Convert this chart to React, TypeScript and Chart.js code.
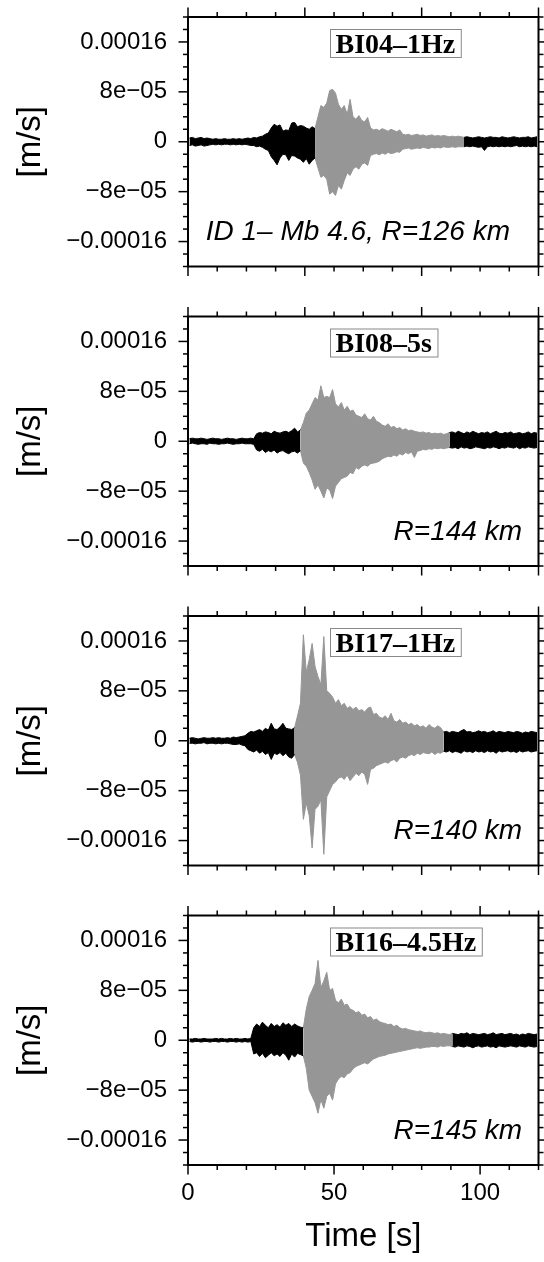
import React, { useEffect, useRef } from "react";
import { Chart, registerables } from "chart.js";

Chart.register(...registerables);

// ---------- data ----------
const TIME_MAX = 120; // s
const Y_MIN = -0.0002; // m/s
const Y_MAX = 0.0002;
const yTickValues = [-0.00016, -0.00008, 0, 0.00008, 0.00016];
const yTickLabels = ["−0.00016", "−8e−05", "0", "8e−05", "0.00016"];
const xTickValues = [0, 50, 100];
const xTickLabels = ["0", "50", "100"];

const stations = ["BI04–1Hz", "BI08–5s", "BI17–1Hz", "BI16–4.5Hz"];
const notes = ["ID 1– Mb 4.6, R=126 km", "R=144 km", "R=140 km", "R=145 km"];
// signal window (grey trace), seconds
const signalStart = [44, 39, 37, 40];
const signalEnd = [94, 89, 87, 90];

// peak amplitudes per 1-s bin, in micrometres per second (1e-6 m/s)
const bi04Max = [
  6, 7, 5, 6, 7, 5, 6, 5, 4, 5,
  4, 4, 5, 4, 4, 5, 4, 5, 4, 5,
  6, 5, 7, 6, 8, 9, 12, 14, 22, 28,
  25, 27, 17, 19, 18, 30, 31, 24, 26, 25,
  22, 20, 24, 21, 40, 58, 55, 62, 82, 84,
  78, 60, 52, 58, 44, 68, 40, 36, 42, 34,
  32, 39, 22, 19, 20, 18, 21, 19, 17, 20,
  18, 16, 19, 12, 11, 12, 10, 11, 12, 10,
  11, 9, 10, 11, 9, 10, 9, 10, 9, 8,
  9, 8, 9, 8, 7, 8, 7, 6, 7, 8,
  7, 6, 7, 8, 7, 7, 6, 8, 7, 6,
  7, 8, 7, 6, 7, 7, 8, 6, 7, 8,
];
const bi04Min = [
  -6, -5, -7, -6, -5, -7, -6, -5, -4, -5,
  -4, -5, -4, -4, -5, -4, -5, -4, -5, -4,
  -5, -6, -6, -8, -7, -9, -12, -14, -24, -30,
  -37, -26, -20, -21, -30, -22, -23, -26, -28, -33,
  -27, -36, -30, -26, -42, -57, -54, -60, -84, -80,
  -86, -70, -76, -62, -50, -54, -44, -40, -44, -36,
  -34, -38, -22, -20, -19, -21, -18, -20, -17, -19,
  -18, -16, -17, -12, -11, -10, -12, -11, -10, -11,
  -9, -10, -11, -9, -10, -9, -10, -8, -9, -9,
  -8, -9, -8, -8, -8, -7, -8, -7, -8, -9,
  -8, -14, -8, -7, -8, -7, -8, -7, -8, -7,
  -8, -7, -6, -8, -7, -8, -7, -8, -7, -8,
];

const bi08Max = [
  4, 5, 4, 4, 5, 4, 3, 4, 5, 4,
  4, 3, 4, 5, 4, 4, 3, 4, 5, 4,
  4, 5, 4, 12, 14, 13, 15, 14, 12, 16,
  14, 13, 15, 16, 14, 17, 21, 15, 18, 30,
  45, 50, 60, 70, 66, 89, 70, 72, 70, 83,
  60, 55, 62, 50, 56, 48, 50, 42, 40, 38,
  44, 36, 34, 40, 32, 30, 26, 24, 28, 22,
  24, 20, 22, 18, 20, 17, 18, 16, 15, 14,
  15, 13, 14, 12, 13, 12, 13, 11, 12, 14,
  15, 13, 16, 14, 12, 15, 13, 16, 14, 12,
  14, 13, 15, 12, 14, 16, 13, 12, 14, 13,
  15, 12, 13, 14, 12, 13, 15, 12, 14, 13,
];
const bi08Min = [
  -4, -3, -4, -5, -4, -4, -5, -3, -4, -4,
  -5, -4, -4, -3, -4, -5, -4, -4, -3, -4,
  -4, -4, -5, -14, -16, -13, -18, -15, -17, -14,
  -19, -16, -15, -18, -20, -17, -16, -19, -15, -35,
  -40, -50, -62, -77, -70, -80, -91, -75, -78, -92,
  -72, -66, -60, -58, -56, -50, -52, -42, -45, -40,
  -38, -40, -36, -35, -34, -32, -28, -26, -24, -25,
  -22, -24, -20, -22, -18, -20, -17, -26, -16, -15,
  -13, -14, -12, -13, -11, -12, -11, -12, -11, -10,
  -11, -10, -12, -9, -11, -10, -12, -11, -9, -10,
  -11, -12, -10, -11, -9, -10, -12, -10, -11, -9,
  -10, -11, -9, -12, -10, -11, -9, -10, -11, -10,
];

const bi17Max = [
  4, 5, 4, 3, 4, 5, 4, 4, 5, 4,
  5, 4, 4, 5, 4, 6, 5, 6, 7, 8,
  12, 15, 14, 16, 18, 15, 20, 17, 28, 19,
  18, 22, 28, 20, 19, 18, 21, 40, 60, 170,
  110, 130, 156, 119, 103, 90, 167, 80, 76, 70,
  60, 66, 56, 60, 52, 55, 50, 54, 48, 50,
  46, 52, 54, 42, 44, 38, 36, 40, 34, 44,
  32, 30, 34, 28, 30, 26, 28, 24, 26, 22,
  24, 20, 26, 22, 20, 24, 21, 14, 15, 13,
  15, 14, 13, 16, 18, 14, 15, 13, 14, 16,
  14, 15, 13, 14, 16, 13, 15, 14, 13, 15,
  14, 13, 15, 14, 12, 14, 13, 15, 14, 13,
];
const bi17Min = [
  -4, -4, -5, -4, -4, -3, -5, -4, -4, -5,
  -4, -5, -4, -4, -5, -6, -6, -5, -7, -8,
  -14, -16, -18, -15, -20, -17, -22, -19, -30, -20,
  -22, -19, -24, -20, -26, -28, -22, -35, -55, -126,
  -100, -120, -172, -110, -105, -95, -182, -90, -80, -70,
  -66, -60, -58, -62, -55, -64, -58, -52, -56, -50,
  -54, -70, -46, -44, -40, -38, -36, -34, -36, -32,
  -30, -34, -28, -26, -28, -24, -22, -24, -20, -22,
  -19, -20, -21, -18, -22, -19, -20, -17, -18, -16,
  -19, -17, -18, -20, -16, -18, -17, -19, -16, -18,
  -17, -19, -16, -18, -17, -20, -16, -18, -17, -16,
  -18, -17, -19, -16, -18, -17, -16, -18, -17, -16,
];

const bi16Max = [
  2, 2, 3, 2, 2, 3, 2, 2, 2, 3,
  2, 3, 2, 2, 3, 2, 3, 2, 2, 3,
  2, 3, 20, 26, 22, 29, 24, 20, 27, 22,
  25, 21, 28, 24, 27, 22, 26, 23, 21, 20,
  50, 70, 80, 91, 128, 85, 95, 109, 80, 83,
  64, 60, 66, 56, 58, 50, 48, 44, 46, 40,
  42, 36, 38, 32, 34, 30, 28, 27, 25, 26,
  22, 24, 20, 18, 19, 17, 16, 15, 14, 15,
  13, 12, 13, 12, 11, 12, 10, 11, 10, 9,
  11, 10, 9, 11, 10, 12, 9, 11, 10, 9,
  10, 11, 9, 10, 12, 9, 10, 11, 9, 10,
  11, 9, 10, 8, 10, 9, 11, 10, 9, 10,
];
const bi16Min = [
  -2, -3, -2, -2, -3, -2, -2, -3, -2, -2,
  -3, -2, -2, -3, -2, -2, -3, -2, -3, -2,
  -3, -2, -22, -20, -26, -21, -28, -24, -20, -25,
  -22, -26, -20, -24, -32, -22, -27, -21, -23, -25,
  -45, -80, -90, -100, -117, -95, -109, -90, -85, -96,
  -70, -62, -58, -60, -54, -52, -46, -42, -40, -38,
  -36, -38, -34, -30, -28, -26, -25, -24, -22, -21,
  -20, -19, -18, -17, -16, -15, -14, -13, -12, -13,
  -12, -11, -11, -10, -10, -11, -9, -10, -9, -9,
  -10, -11, -9, -10, -11, -9, -10, -12, -10, -9,
  -11, -10, -9, -11, -10, -12, -9, -10, -11, -10,
  -9, -10, -11, -9, -10, -11, -9, -10, -11, -10,
];

const traceMax = [bi04Max, bi08Max, bi17Max, bi16Max];
const traceMin = [bi04Min, bi08Min, bi17Min, bi16Min];

// ---------- layout / style ----------
const SANS = '"Liberation Sans", Arial, Helvetica, sans-serif';
const SERIF = '"Liberation Serif", "Times New Roman", serif';
const W = 544;
const PANEL_H = 249.5;
const canvasTops = [0, 299, 599, 898];
const padTops = [17, 17.5, 17, 17.5];
const noteRight = [322, 334, 334, 334];
const GREY = "#969696";

type Pt = { x: number; y: number | null };

// min/max envelope per bin, split into the black (noise) and grey (signal) parts
function buildSeries(maxArr: number[], minArr: number[], start: number, end: number) {
  const blackUp: Pt[] = [];
  const blackLo: Pt[] = [];
  const greyUp: Pt[] = [];
  const greyLo: Pt[] = [];
  for (let i = 0; i < maxArr.length; i++) {
    const x = i + 0.5;
    const up = maxArr[i] * 1e-6;
    const lo = minArr[i] * 1e-6;
    const inSig = i >= start && i < end;
    const joinGrey = i === start - 1 || i === end; // connect grey to neighbouring noise
    blackUp.push({ x, y: inSig ? null : up });
    blackLo.push({ x, y: inSig ? null : lo });
    greyUp.push({ x, y: inSig || joinGrey ? up : null });
    greyLo.push({ x, y: inSig || joinGrey ? lo : null });
  }
  return { blackUp, blackLo, greyUp, greyLo };
}

function framePlugin(idx: number, isLast: boolean) {
  return {
    id: "gmtFrame" + idx,
    afterDraw(chart: any) {
      const { ctx, chartArea: a, scales } = chart;
      const line = (x1: number, y1: number, x2: number, y2: number) => {
        ctx.beginPath();
        ctx.moveTo(x1, y1);
        ctx.lineTo(x2, y2);
        ctx.stroke();
      };
      ctx.save();
      ctx.strokeStyle = "#000";
      ctx.lineWidth = 1.5;
      for (let k = -10; k <= 10; k++) {
        const y = scales.y.getPixelForValue(k * 2e-5);
        const len = k % 4 === 0 ? 9.5 : 5;
        line(a.left - len, y, a.left, y);
        line(a.right, y, a.right + len, y);
      }
      const majorX = isLast ? 50 : 40;
      for (let t = 0; t <= TIME_MAX; t += 10) {
        const x = scales.x.getPixelForValue(t);
        const len = t % majorX === 0 ? 9.5 : 5;
        line(x, a.top - len, x, a.top);
        line(x, a.bottom, x, a.bottom + len);
      }
      ctx.lineWidth = 2;
      ctx.strokeRect(a.left, a.top, a.right - a.left, a.bottom - a.top);

      ctx.font = `bold 28px ${SERIF}`;
      const tw = ctx.measureText(stations[idx]).width;
      const bx = a.left + 142;
      const by = a.top + 12;
      ctx.fillStyle = "#fff";
      ctx.fillRect(bx, by, tw + 11, 28);
      ctx.strokeStyle = "#888";
      ctx.lineWidth = 1;
      ctx.strokeRect(bx + 0.5, by + 0.5, tw + 11, 28);
      ctx.fillStyle = "#000";
      ctx.textAlign = "left";
      ctx.textBaseline = "alphabetic";
      ctx.fillText(stations[idx], bx + 5.5, by + 23.5);

      ctx.font = `italic 28px ${SANS}`;
      ctx.textAlign = "right";
      ctx.fillText(notes[idx], a.left + noteRight[idx], a.top + 223);
      ctx.restore();
    },
  };
}

function Panel({ idx }: { idx: number }) {
  const ref = useRef<HTMLCanvasElement | null>(null);
  const isLast = idx === 3;
  const height = isLast ? 364 : 290;
  const xAxisH = isLast ? 92 : 0;
  const padBottom = height - padTops[idx] - PANEL_H - xAxisH;

  useEffect(() => {
    if (!ref.current) return;
    const s = buildSeries(traceMax[idx], traceMin[idx], signalStart[idx], signalEnd[idx]);
    const common = { pointRadius: 0, spanGaps: false, tension: 0, borderWidth: 1 };
    const chart = new Chart(ref.current, {
      type: "line",
      data: {
        datasets: [
          { ...common, data: s.blackUp as any, borderColor: "#000", backgroundColor: "#000", fill: "+1" },
          { ...common, data: s.blackLo as any, borderColor: "#000", backgroundColor: "#000", fill: false },
          { ...common, data: s.greyUp as any, borderColor: GREY, backgroundColor: GREY, fill: "+1" },
          { ...common, data: s.greyLo as any, borderColor: GREY, backgroundColor: GREY, fill: false },
        ],
      },
      options: {
        animation: false,
        responsive: false,
        events: [],
        layout: { padding: { top: padTops[idx], right: 5.5, bottom: padBottom, left: 0 } },
        plugins: { legend: { display: false }, tooltip: { enabled: false }, filler: { propagate: false } },
        scales: {
          x: {
            type: "linear",
            min: 0,
            max: TIME_MAX,
            display: isLast,
            position: "bottom",
            grid: { display: false, drawTicks: false },
            border: { display: false },
            afterBuildTicks: (sc: any) => {
              sc.ticks = xTickValues.map((v) => ({ value: v }));
            },
            afterFit: (sc: any) => {
              sc.height = xAxisH;
              sc.paddingLeft = 0;
              sc.paddingRight = 0;
              sc.paddingTop = 0;
              sc.paddingBottom = 0;
            },
            ticks: {
              autoSkip: false,
              maxRotation: 0,
              padding: 14,
              color: "#000",
              font: { family: SANS, size: 24 },
              callback: (_v: any, i: number) => xTickLabels[i],
            },
            title: {
              display: true,
              text: "Time [s]",
              color: "#000",
              font: { family: SANS, size: 33 },
              padding: { top: 0, bottom: 0 },
            },
          },
          y: {
            type: "linear",
            min: Y_MIN,
            max: Y_MAX,
            position: "left",
            grid: { display: false, drawTicks: false },
            border: { display: false },
            afterBuildTicks: (sc: any) => {
              sc.ticks = yTickValues.map((v) => ({ value: v }));
            },
            afterFit: (sc: any) => {
              sc.width = 188;
              sc.paddingTop = 0;
              sc.paddingBottom = 0;
              sc.paddingLeft = 0;
              sc.paddingRight = 0;
            },
            ticks: {
              padding: 21,
              color: "#000",
              font: { family: SANS, size: 24 },
              callback: (_v: any, i: number) => yTickLabels[i],
            },
            title: {
              display: true,
              text: "[m/s]",
              color: "#000",
              font: { family: SANS, size: 33 },
              padding: { top: 11, bottom: 0 },
            },
          },
        },
      } as any,
      plugins: [framePlugin(idx, isLast)],
    });
    return () => chart.destroy();
  }, [idx]);

  return (
    <canvas
      ref={ref}
      width={W}
      height={height}
      style={{ position: "absolute", left: 0, top: canvasTops[idx], width: W, height }}
    />
  );
}

export default function App() {
  return (
    <div style={{ position: "absolute", left: 0, top: 0, width: W, height: 1262, background: "#fff" }}>
      {[0, 1, 2, 3].map((i) => (
        <Panel key={i} idx={i} />
      ))}
    </div>
  );
}
